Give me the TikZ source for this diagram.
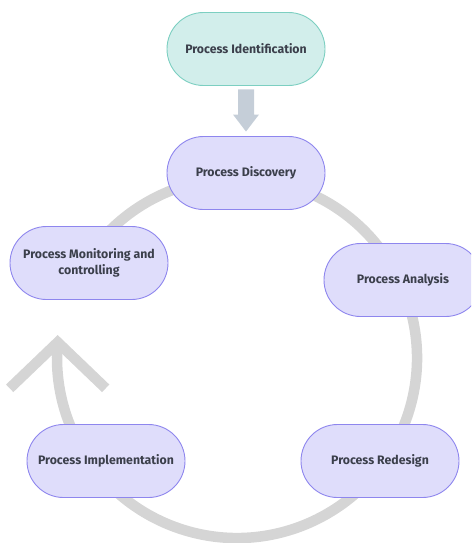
\documentclass[tikz,border=0pt]{standalone}
\usepackage{fontspec}
\setmainfont{Fira Sans}
\usetikzlibrary{shapes.misc}
\definecolor{boxfill}{HTML}{DFDDFB}
\definecolor{boxdraw}{HTML}{8E86EE}
\definecolor{tealfill}{HTML}{D2EEEB}
\definecolor{tealdraw}{HTML}{7CCFC1}
\definecolor{txt}{HTML}{3B3F4B}
\definecolor{ring}{HTML}{D5D5D5}
\definecolor{arrowgray}{HTML}{C5CED8}
\tikzset{
  stage/.style={rounded rectangle, draw=boxdraw, fill=boxfill, line width=0.9pt,
    minimum width=158pt, minimum height=73pt, inner sep=0pt,
    font=\bfseries\fontsize{12.3}{16}\selectfont, text=txt, align=center},
  startstage/.style={stage, draw=tealdraw, fill=tealfill},
  ringline/.style={draw=ring, line width=10.5pt},
}
\begin{document}
\begin{tikzpicture}[x=1pt,y=-1pt]
\useasboundingbox (0,0) rectangle (471,543);
\clip (0,0) rectangle (471,543);
% cycle ring
\coordinate (c) at (237,358);
\draw[ringline] ([shift={(-160:180)}]c) arc[start angle=-160, end angle=185, radius=180] coordinate (tip);
\draw[ringline, line join=miter] ([shift={(-48,46)}]tip) -- (tip) -- ([shift={(48,46)}]tip);
% nodes
\node[startstage] (ident) at (246,49) {Process Identification};
\node[stage] (disc) at (246,173) {Process Discovery};
\node[stage] (mon) at (89,263) {Process Monitoring and\\controlling};
\node[stage] (anal) at (403,280) {Process Analysis};
\node[stage] (impl) at (106,461) {Process Implementation};
\node[stage] (red) at (380,461) {Process Redesign};
% block arrow
\fill[arrowgray] ([shift={(-8,3.5)}]ident.south) -- ([shift={(8,3.5)}]ident.south)
  -- ([shift={(8,-21.5)}]disc.north) -- ([shift={(13,-21.5)}]disc.north)
  -- ([shift={(0,-4.5)}]disc.north) -- ([shift={(-13,-21.5)}]disc.north)
  -- ([shift={(-8,-21.5)}]disc.north) -- cycle;
\end{tikzpicture}
\end{document}
